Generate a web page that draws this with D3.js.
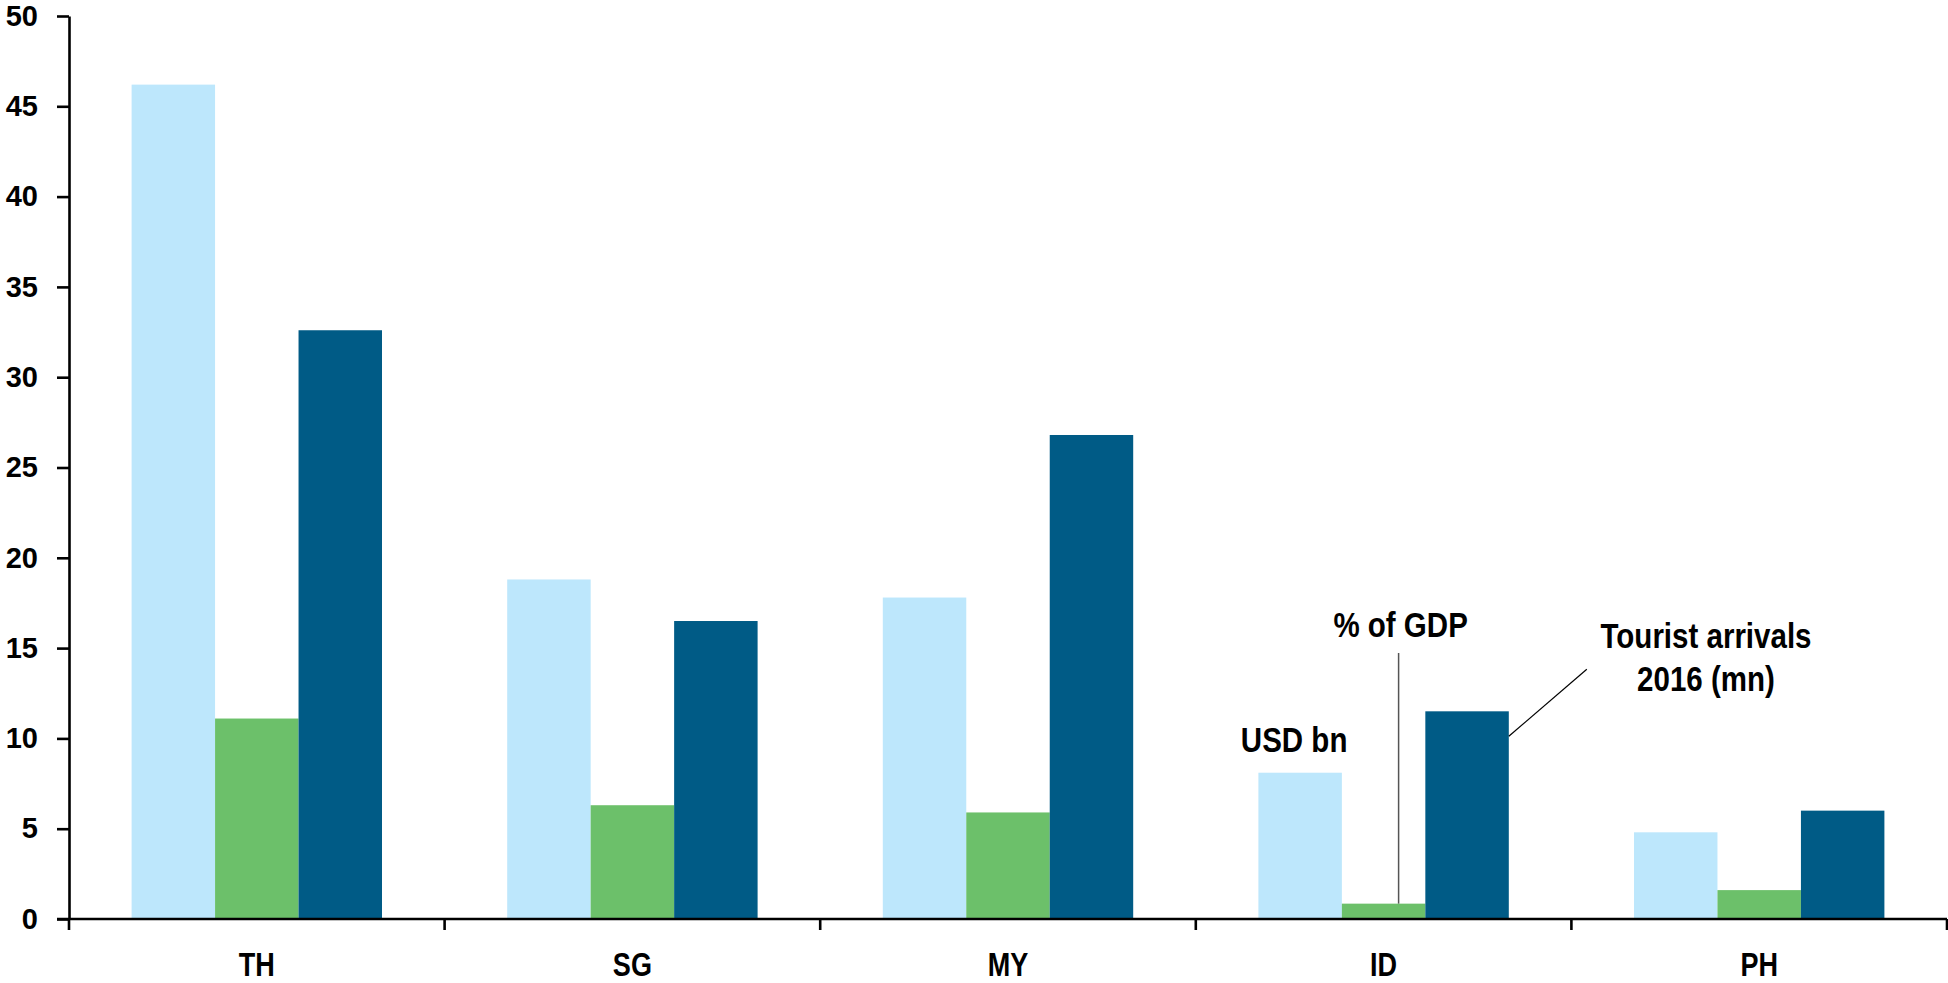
<!DOCTYPE html>
<html>
<head>
<meta charset="utf-8">
<script src="https://cdn.jsdelivr.net/npm/d3@7"></script>
<style>
  html, body { margin: 0; padding: 0; background: #fff; }
  svg { display: block; }
  .narrow { font-family: "Liberation Sans", Arial, sans-serif; font-weight: bold; }
</style>
</head>
<body>
<svg id="chart" width="1948" height="983"></svg>
<script>
// Tourism receipts and arrivals by country
const categories = ["TH", "SG", "MY", "ID", "PH"];
const seriesKeys = ["usd", "gdp", "arrivals"];
const usdBn = [46.2, 18.8, 17.8, 8.1, 4.8];
const pctGdp = [11.1, 6.3, 5.9, 0.85, 1.6];
const arrivals2016 = [32.6, 16.5, 26.8, 11.5, 6.0];
const yTicks = [0, 5, 10, 15, 20, 25, 30, 35, 40, 45, 50];
const colors = { usd: "#BDE7FC", gdp: "#6CC06A", arrivals: "#005B86" };

const values = { usd: usdBn, gdp: pctGdp, arrivals: arrivals2016 };

// condensed look: squeeze bold sans horizontally
const SQUEEZE = 0.82;

const svg = d3.select("#chart");
const plotLeft = 69, plotRight = 1947, plotTop = 16, plotBottom = 919;

const x0 = d3.scaleBand().domain(categories).range([plotLeft, plotRight]).padding(0);
const x1 = d3.scaleBand().domain(seriesKeys).range([0, x0.bandwidth()])
  .paddingInner(0).paddingOuter(0.75);
const y = d3.scaleLinear().domain([0, 50]).range([plotBottom, plotTop]);

// bars
const groups = svg.append("g").selectAll("g").data(categories).join("g")
  .attr("transform", d => `translate(${x0(d)},0)`);
groups.selectAll("rect")
  .data((c, i) => seriesKeys.map(k => ({ key: k, value: values[k][i] })))
  .join("rect")
  .attr("x", d => x1(d.key))
  .attr("width", x1.bandwidth())
  .attr("y", d => y(d.value))
  .attr("height", d => y(0) - y(d.value))
  .attr("fill", d => colors[d.key]);

// y axis
const yAxis = svg.append("g").attr("transform", `translate(${plotLeft},0)`)
  .call(d3.axisLeft(y).tickValues(yTicks).tickSize(12).tickSizeOuter(0).tickPadding(19));
yAxis.select(".domain").attr("stroke", "#000").attr("stroke-width", 2.6);
yAxis.selectAll(".tick line").attr("stroke", "#000").attr("stroke-width", 2.6);
yAxis.selectAll(".tick text")
  .attr("font-family", "'Liberation Sans', Arial, sans-serif")
  .attr("font-weight", "bold").attr("font-size", 29).attr("fill", "#000");

// x axis: baseline, boundary ticks, centred labels
const xAxis = svg.append("g").attr("transform", `translate(0,${plotBottom})`)
  .call(d3.axisBottom(x0).tickSize(0).tickPadding(34).tickSizeOuter(0));
xAxis.select(".domain").remove();
xAxis.append("line").attr("x1", plotLeft - 12).attr("x2", plotRight)
  .attr("stroke", "#000").attr("stroke-width", 2.6);
const bounds = categories.map(c => x0(c)).concat([plotRight]);
xAxis.selectAll(".bound").data(bounds).join("line").attr("class", "bound")
  .attr("x1", d => d).attr("x2", d => d).attr("y1", 0).attr("y2", 11)
  .attr("stroke", "#000").attr("stroke-width", 2.6);
xAxis.selectAll(".tick text").attr("class", "narrow")
  .attr("font-size", 33).attr("fill", "#000").attr("dy", "0.71em")
  .attr("transform", `scale(${SQUEEZE},1)`);

// series annotations on the ID group
const idx = "ID";
const iId = categories.indexOf(idx);
const bw = x1.bandwidth();

function label(cx, lines, baseline, lineGap) {
  const g = svg.append("g")
    .attr("transform", `translate(${cx},0) scale(${SQUEEZE},1)`);
  g.selectAll("text").data(lines).join("text")
    .attr("class", "narrow").attr("font-size", 36).attr("fill", "#000")
    .attr("text-anchor", "middle")
    .attr("x", 0).attr("y", (d, i) => baseline + i * lineGap)
    .text(d => d);
}

const usdX = x0(idx) + x1("usd") + bw / 2 - 6;
label(usdX, ["USD bn"], y(usdBn[iId]) - 21, 0);

const gdpLineX = x0(idx) + x1("gdp") + bw / 2 + 15;
svg.append("line").attr("x1", gdpLineX).attr("x2", gdpLineX)
  .attr("y1", y(pctGdp[iId])).attr("y2", 653)
  .attr("stroke", "#555").attr("stroke-width", 1.5);
label(gdpLineX + 2, ["% of GDP"], 637, 0);

const arrX = x0(idx) + x1("arrivals") + bw;
svg.append("line").attr("x1", arrX).attr("y1", y(arrivals2016[iId]) + 25)
  .attr("x2", arrX + 78).attr("y2", y(arrivals2016[iId]) - 42)
  .attr("stroke", "#000").attr("stroke-width", 1.2);
label(1706, ["Tourist arrivals", "2016 (mn)"], 648, 43);
</script>
</body>
</html>
